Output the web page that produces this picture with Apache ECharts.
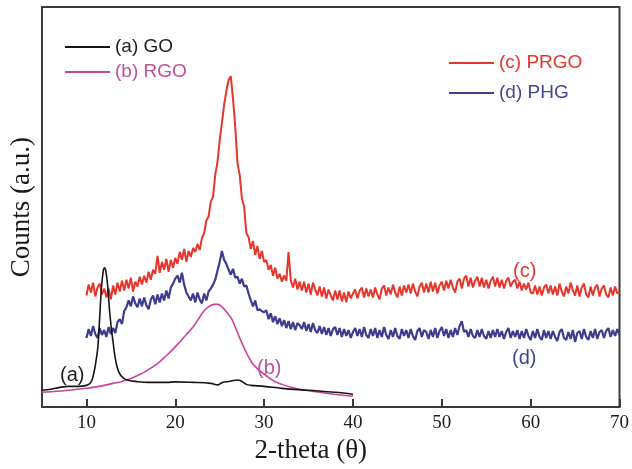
<!DOCTYPE html>
<html>
<head>
<meta charset="utf-8">
<title>XRD patterns</title>
<script src="https://cdn.jsdelivr.net/npm/echarts@6/dist/echarts.min.js"></script>
<style>
  html, body { margin: 0; padding: 0; background: #fff; }
  #chart { width: 632px; height: 469px; }
</style>
</head>
<body>
<div id="chart"></div>
<script>
  // x ticks (2-theta, degrees)
  var tickValues = [10, 20, 30, 40, 50, 60, 70];

  // (a) GO and (b) RGO : smooth scans, [2-theta, counts]
  var goData = [
    [5, 17], [6, 18], [7, 20], [8, 21], [9, 21], [10, 22], [10.5, 25], [10.8, 33],
    [11.1, 48], [11.3, 62], [11.5, 92], [11.7, 122], [11.9, 138], [12.05, 141],
    [12.2, 137], [12.4, 122], [12.6, 98], [12.8, 80], [13, 66], [13.2, 52],
    [13.5, 39], [13.8, 33], [14.2, 29], [14.8, 27], [15.5, 26], [17, 25], [19, 25],
    [20, 25.5], [22, 25], [24, 24], [24.8, 22.5], [25.3, 25], [26, 26], [27, 27.5],
    [27.5, 26], [28, 23], [28.5, 22], [30, 21], [32, 19], [35, 17], [38, 15], [40, 13]
  ];
  var rgoData = [
    [5, 15], [6, 15.5], [8, 17], [10, 19], [12, 22], [13, 24], [14, 26], [15, 29],
    [16, 33], [17, 38], [18, 44], [19, 52], [20, 61], [20.6, 67], [21.2, 73],
    [22, 81], [22.6, 89], [23.2, 97], [23.8, 102], [24.4, 104], [24.8, 104],
    [25.3, 101], [25.8, 96], [26.3, 90], [26.8, 80], [27.3, 69], [27.8, 59],
    [28.3, 50], [28.8, 43], [29.5, 37], [30.2, 32], [31, 27], [32, 23], [33, 20],
    [34, 18], [35, 16.5], [37, 14], [40, 11]
  ];

  // (c) PRGO and (d) PHG : noisy scans from 10 to 70 deg, one reading every 0.25 deg
  var scanStart = 10;
  var scanStep = 0.25;
  var prgoCounts = [
    113, 124, 116, 126, 112, 121, 125, 114, 120,
    111, 120, 109, 123, 114, 126, 117, 128,
    118, 129, 120, 131, 117, 127, 122, 132,
    124, 133, 126, 137, 129, 139, 135, 153,
    136, 147, 139, 150, 137, 149, 141, 151,
    145, 157, 149, 160, 147, 158, 152, 161,
    157, 165, 159, 171, 176, 189, 193, 208,
    213, 235, 248, 270, 288, 306, 320, 331,
    335, 312, 284, 247, 235, 211, 203, 176,
    172, 160, 168, 154, 163, 150, 158, 147,
    149, 139, 144, 133, 141, 130, 135, 127,
    133, 128, 157, 128, 121, 130, 119, 127,
    118, 127, 116, 125, 114, 126, 119, 113,
    122, 112, 121, 110, 119, 113, 108, 118,
    109, 118, 107, 116, 106, 117, 110, 115,
    119, 110, 118, 121, 111, 120, 112, 119,
    111, 121, 114, 109, 120, 123, 113, 121,
    114, 124, 116, 111, 122, 113, 123, 116,
    124, 115, 125, 117, 112, 122, 126, 116,
    125, 116, 127, 117, 126, 115, 123, 127,
    118, 128, 120, 129, 121, 116, 127, 130,
    120, 130, 133, 122, 131, 121, 128, 132,
    122, 131, 121, 129, 120, 128, 132, 122,
    131, 121, 129, 120, 128, 131, 122, 127,
    129, 120, 127, 118, 125, 119, 126, 116,
    115, 123, 114, 122, 113, 121, 124, 115,
    123, 114, 122, 113, 125, 117, 112, 122,
    115, 126, 118, 113, 123, 112, 121, 125,
    114, 111, 122, 113, 121, 124, 112, 120,
    123, 114, 111, 121, 113, 122, 115, 117
  ];
  var phgCounts = [
    70, 79, 72, 82, 74, 70, 80, 73, 78,
    71, 81, 74, 80, 75, 86, 89, 84,
    97, 101, 108, 102, 112, 105, 101, 110,
    102, 111, 103, 99, 109, 113, 104, 114,
    106, 115, 108, 118, 110, 121, 125, 130,
    133, 126, 136, 124, 116, 112, 108, 115,
    106, 116, 109, 105, 115, 108, 117, 120,
    124, 129, 138, 147, 158, 149, 145, 139,
    134, 140, 131, 132, 125, 130, 122, 123,
    115, 108, 102, 108, 98, 99, 97, 96,
    98, 89, 95, 86, 92, 84, 90, 82,
    88, 80, 87, 79, 86, 78, 85, 83,
    79, 86, 77, 84, 76, 85, 78, 75,
    82, 74, 81, 73, 80, 72, 79, 81,
    73, 80, 71, 79, 72, 78, 70, 76,
    80, 72, 79, 71, 81, 73, 70, 79,
    72, 80, 70, 78, 71, 81, 73, 69,
    78, 71, 80, 72, 69, 79, 72, 78,
    70, 79, 72, 68, 77, 80, 71, 78,
    76, 69, 78, 71, 80, 70, 77, 81,
    72, 79, 70, 78, 71, 80, 73, 82,
    87, 76, 78, 71, 79, 72, 70, 78,
    71, 79, 72, 69, 77, 70, 78, 71,
    79, 71, 77, 69, 76, 80, 70, 77,
    71, 78, 69, 77, 70, 79, 72, 68,
    77, 70, 79, 71, 68, 78, 70, 77,
    69, 77, 71, 67, 76, 79, 70, 68,
    76, 69, 78, 66, 75, 77, 69, 79,
    71, 68, 77, 70, 79, 69, 76, 78,
    70, 77, 80, 71, 78, 72, 79, 73
  ];

  function toPairs(counts) {
    var out = [];
    for (var i = 0; i < counts.length; i++) {
      out.push([scanStart + i * scanStep, counts[i]]);
    }
    return out;
  }

  var chart = echarts.init(document.getElementById('chart'));

  var serif = '"Liberation Serif", "Times New Roman", serif';
  var sans = '"Liberation Sans", Arial, sans-serif';

  var option = {
    animation: false,
    grid: {
      left: 41, right: 10, top: 7, bottom: 57,
      show: true, borderColor: '#3a3a3a', borderWidth: 2
    },
    legend: [
      {
        orient: 'vertical', left: 65, top: 37, padding: 0,
        icon: 'rect', itemWidth: 45, itemHeight: 2, itemGap: 5, itemTextGap: 5,
        textStyle: { fontFamily: sans, fontSize: 19, lineHeight: 20 },
        data: [
          { name: '(a) GO', textStyle: { color: '#1e1e1e' } },
          { name: '(b) RGO', textStyle: { color: '#c0509c' } }
        ]
      },
      {
        orient: 'vertical', left: 449, top: 53, padding: 0,
        icon: 'rect', itemWidth: 45, itemHeight: 2, itemGap: 10, itemTextGap: 6,
        textStyle: { fontFamily: sans, fontSize: 19, lineHeight: 20 },
        data: [
          { name: '(c) PRGO', textStyle: { color: '#e8352c' } },
          { name: '(d) PHG', textStyle: { color: '#454590' } }
        ]
      }
    ],
    xAxis: {
      type: 'value', min: 5, max: 70,
      name: '2-theta (θ)', nameLocation: 'middle', nameGap: 29,
      nameTextStyle: { fontFamily: serif, fontSize: 27, color: '#1a1a1a', padding: [0, 40, 0, 0] },
      axisLine: { show: false },
      splitLine: { show: false },
      axisTick: {
        inside: true, length: 8, customValues: tickValues,
        lineStyle: { color: '#3a3a3a', width: 2 }
      },
      axisLabel: {
        customValues: tickValues, margin: 6,
        fontFamily: serif, fontSize: 19, color: '#1a1a1a'
      }
    },
    yAxis: {
      type: 'value', min: 0, max: 405,
      name: 'Counts (a.u.)', nameLocation: 'middle', nameGap: 7,
      nameTextStyle: { fontFamily: serif, fontSize: 27, color: '#1a1a1a' },
      axisLine: { show: false },
      axisTick: { show: false },
      axisLabel: { show: false },
      splitLine: { show: false }
    },
    series: [
      {
        name: '(c) PRGO', type: 'line', symbol: 'none', data: toPairs(prgoCounts),
        lineStyle: { color: '#e8352c', width: 2 }, itemStyle: { color: '#e8352c' }, z: 2
      },
      {
        name: '(d) PHG', type: 'line', symbol: 'none', data: toPairs(phgCounts),
        lineStyle: { color: '#3d3c8e', width: 2.2 }, itemStyle: { color: '#3d3c8e' }, z: 2
      },
      {
        name: '(b) RGO', type: 'line', symbol: 'none', data: rgoData, smooth: 0.4,
        lineStyle: { color: '#c6449e', width: 1.6 }, itemStyle: { color: '#c6449e' }, z: 3
      },
      {
        name: '(a) GO', type: 'line', symbol: 'none', data: goData, smooth: 0.4,
        lineStyle: { color: '#151515', width: 1.6 }, itemStyle: { color: '#151515' }, z: 4
      }
    ],
    graphic: [
      { type: 'text', left: 60, top: 365, style: { text: '(a)', font: '20px ' + sans, fill: '#1e1e1e' } },
      { type: 'text', left: 257, top: 358, style: { text: '(b)', font: '20px ' + sans, fill: '#c0509c' } },
      { type: 'text', left: 513, top: 261, style: { text: '(c)', font: '20px ' + sans, fill: '#e8352c' } },
      { type: 'text', left: 512, top: 348, style: { text: '(d)', font: '20px ' + sans, fill: '#454590' } }
    ]
  };

  chart.setOption(option);
</script>
</body>
</html>
